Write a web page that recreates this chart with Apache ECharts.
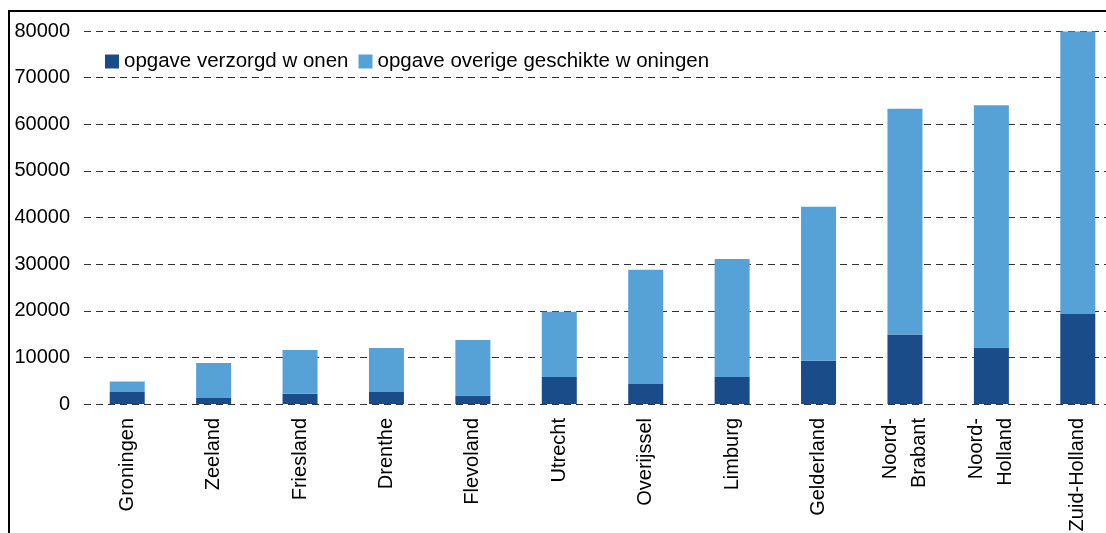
<!DOCTYPE html>
<html>
<head>
<meta charset="utf-8">
<script src="https://cdn.jsdelivr.net/npm/echarts@6/dist/echarts.min.js"></script>
<style>
  html, body { margin: 0; padding: 0; background: #fff; }
  #chart { width: 1106px; height: 533px; }
</style>
</head>
<body>
<div id="chart"></div>
<script>
const provinces = ['Groningen', 'Zeeland', 'Friesland', 'Drenthe', 'Flevoland', 'Utrecht',
  'Overijssel', 'Limburg', 'Gelderland', 'Noord-\nBrabant', 'Noord-\nHolland', 'Zuid-Holland'];
const verzorgd = [2600, 1300, 2200, 2600, 1800, 5800, 4300, 5800, 9300, 14900, 12100, 19300];
const totaal = [4800, 8800, 11600, 12000, 13700, 19800, 28800, 31100, 42300, 63300, 64100, 79900];
const overig = totaal.map((t, i) => t - verzorgd[i]);
const yTicks = [0, 10000, 20000, 30000, 40000, 50000, 60000, 70000, 80000];

const font = 'Liberation Sans, Arial, sans-serif';
const chart = echarts.init(document.getElementById('chart'));

chart.setOption({
  animation: false,
  textStyle: { fontFamily: font },
  graphic: [{
    type: 'rect',
    shape: { x: 9, y: 11, width: 1200, height: 600 },
    style: { fill: 'none', stroke: '#000', lineWidth: 2 },
    silent: true
  }],
  legend: {
    left: 100,
    top: 46,
    itemWidth: 14,
    itemHeight: 14,
    itemGap: 10,
    icon: 'rect',
    textStyle: { fontSize: 20.5, color: '#000', fontFamily: font },
    data: ['opgave verzorgd w onen', 'opgave overige geschikte w oningen']
  },
  // plot runs past the right edge of the picture, like the source
  grid: { left: 84, width: 1037, top: 31, height: 373, outerBoundsMode: 'none' },
  xAxis: {
    type: 'category',
    data: provinces,
    axisLine: { show: false },
    axisTick: { show: false },
    axisLabel: {
      rotate: 90,
      margin: 14,
      fontSize: 20,
      color: '#000',
      fontFamily: font,
      lineHeight: 29
    }
  },
  yAxis: {
    type: 'value',
    min: yTicks[0],
    max: yTicks[yTicks.length - 1],
    interval: 10000,
    axisLine: { show: false },
    axisTick: { show: false },
    axisLabel: {
      margin: 14, fontSize: 20, color: '#000', fontFamily: font,
      formatter: v => String(v)
    },
    splitLine: { lineStyle: { color: '#333', width: 1, type: [7, 5] } }
  },
  series: [
    {
      name: 'opgave verzorgd w onen',
      type: 'bar',
      stack: 'totaal',
      barWidth: 35,
      data: verzorgd,
      itemStyle: { color: '#1B4C8A' }
    },
    {
      name: 'opgave overige geschikte w oningen',
      type: 'bar',
      stack: 'totaal',
      barWidth: 35,
      data: overig,
      itemStyle: { color: '#56A2D6' }
    }
  ]
});
</script>
</body>
</html>
